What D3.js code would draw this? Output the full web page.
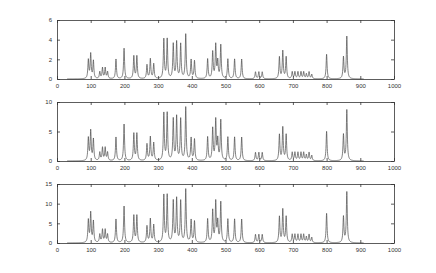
<!DOCTYPE html>
<html>
<head>
<meta charset="utf-8">
<script src="https://cdn.jsdelivr.net/npm/d3@7"></script>
<style>
  body { margin: 0; background: #fff; }
  svg { display: block; }
  .axis text { font-family: "Liberation Sans", Arial, sans-serif; font-size: 6px; fill: #333; }
  .axis path, .axis line { stroke: #333; stroke-width: 0.8; }
</style>
</head>
<body>
<svg id="chart" width="436" height="273"></svg>
<script>
const svg = d3.select("#chart");

// peak centres and heights
const peakPos = [93, 100, 108, 127, 135, 143, 150, 175, 199, 228, 237, 267, 277, 287,
  317, 327, 345, 355, 367, 382, 398, 408, 447, 462, 471, 477, 486, 507, 527, 548,
  589, 599, 609, 660, 670, 680, 698, 706, 715, 724, 732, 740, 748, 756, 800, 850, 860];
const peakHeight = [1.9, 2.5, 1.8, 0.7, 1.1, 1.1, 0.7, 2.0, 3.1, 2.3, 2.3, 1.4, 2.0, 1.5,
  4.0, 4.0, 3.5, 3.7, 3.5, 4.5, 1.9, 1.8, 2.0, 2.7, 3.4, 1.7, 3.4, 2.0, 2.0, 2.0,
  0.7, 0.7, 0.7, 2.2, 2.8, 2.2, 0.7, 0.7, 0.7, 0.7, 0.7, 0.5, 0.7, 0.45, 2.5, 2.2, 4.3];
// each panel is the same spectrum at a different gain
const panelGain = [1, 2, 3];
const yMax = [6, 10, 15];
const yTicks = [[0, 2, 4, 6], [0, 5, 10], [0, 5, 10, 15]];
const xTicks = d3.range(0, 1001, 100);

const left = 57, right = 394, panelH = 59;
const panelTop = [20, 102, 184];
const width0 = 1.7;   // peak half width (x units)

const x = d3.scaleLinear().domain([0, 1000]).range([left, right]);
const xs = d3.range(30, 910.01, 0.5);

function spectrum(gain) {
  return xs.map(v => {
    let s = 0;
    for (let i = 0; i < peakPos.length; i++) {
      const d = (v - peakPos[i]) / width0;
      s += peakHeight[i] / (1 + d * d);
    }
    return [v, s * gain];
  });
}

panelGain.forEach((gain, k) => {
  const top = panelTop[k];
  const y = d3.scaleLinear().domain([0, yMax[k]]).range([top + panelH, top]);
  const g = svg.append("g");

  g.append("path")
    .datum(spectrum(gain))
    .attr("fill", "none")
    .attr("stroke", "#4a4a4a")
    .attr("stroke-width", 0.7)
    .attr("d", d3.line().x(d => x(d[0])).y(d => y(d[1])));

  g.append("g").attr("class", "axis")
    .attr("transform", `translate(0,${top + panelH})`)
    .call(d3.axisBottom(x).tickValues(xTicks).tickFormat(d3.format("d")).tickSizeInner(-3).tickSizeOuter(0).tickPadding(5));
  g.append("g").attr("class", "axis")
    .attr("transform", `translate(0,${top})`)
    .call(d3.axisTop(x).tickValues(xTicks).tickSizeInner(-3).tickSizeOuter(0).tickFormat(""));
  g.append("g").attr("class", "axis")
    .attr("transform", `translate(${left},0)`)
    .call(d3.axisLeft(y).tickValues(yTicks[k]).tickFormat(d3.format("d")).tickSizeInner(-3).tickSizeOuter(0).tickPadding(5));
  g.append("g").attr("class", "axis")
    .attr("transform", `translate(${right},0)`)
    .call(d3.axisRight(y).tickValues(yTicks[k]).tickSizeInner(-3).tickSizeOuter(0).tickFormat(""));
});
</script>
</body>
</html>
